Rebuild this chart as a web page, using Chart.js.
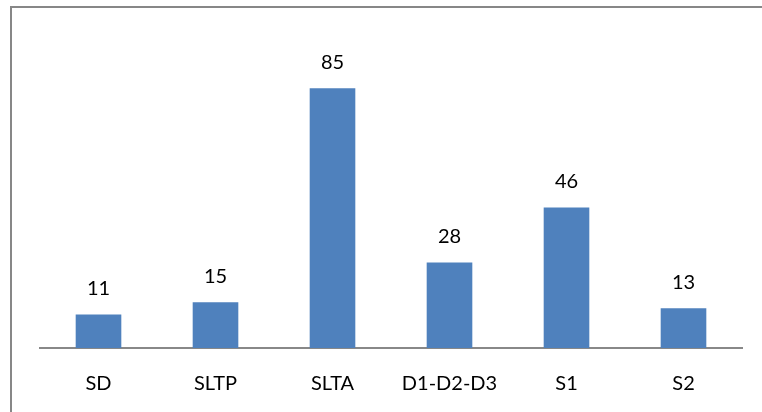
<!DOCTYPE html>
<html>
<head>
<meta charset="utf-8">
<script src="https://cdn.jsdelivr.net/npm/chart.js@4.4.1/dist/chart.umd.min.js"></script>
<style>
  html, body { margin: 0; padding: 0; background: #fff; }
  #wrap { position: relative; width: 762px; height: 412px; overflow: hidden; }
  #frame { position: absolute; left: 10px; top: 6px; width: 800px; height: 500px; border-left: 2px solid #878787; border-top: 2px solid #878787; }
  canvas { position: absolute; left: 0; top: 0; }
</style>
</head>
<body>
<div id="wrap">
  <div id="frame"></div>
  <canvas id="chart" width="762" height="412"></canvas>
</div>
<script>
const categories = ["SD", "SLTP", "SLTA", "D1-D2-D3", "S1", "S2"];
const values = [11, 15, 85, 28, 46, 13];

// draws the number above each bar
const valueLabels = {
    id: "valueLabels",
    afterDatasetsDraw(chart) {
        const ctx = chart.ctx;
        const meta = chart.getDatasetMeta(0);
        ctx.save();
        ctx.font = "20px Lato";
        ctx.fillStyle = "#000";
        ctx.textAlign = "center";
        ctx.textBaseline = "middle";
        meta.data.forEach((bar, i) => {
            ctx.fillText(values[i], bar.x, bar.y - 26);
        });
        ctx.restore();
    },
};

new Chart(document.getElementById("chart"), {
    type: "bar",
    data: {
        labels: categories,
        datasets: [
            {
                data: values,
                backgroundColor: "#4F81BD",
                barPercentage: 0.39,
                categoryPercentage: 1,
            },
        ],
    },
    options: {
        responsive: false,
        animation: false,
        layout: { padding: { left: 40, right: 20, top: 73, bottom: 20 } },
        plugins: { legend: { display: false }, tooltip: { enabled: false } },
        scales: {
            x: {
                grid: { display: false },
                border: { color: "#888888", width: 2 },
                ticks: { color: "#000", font: { family: "Lato", size: 20 }, padding: 16 },
                afterFit(scale) { scale.height = 44; },
            },
            y: { display: false, min: 0, max: 90 },
        },
    },
    plugins: [valueLabels],
});
</script>
</body>
</html>
